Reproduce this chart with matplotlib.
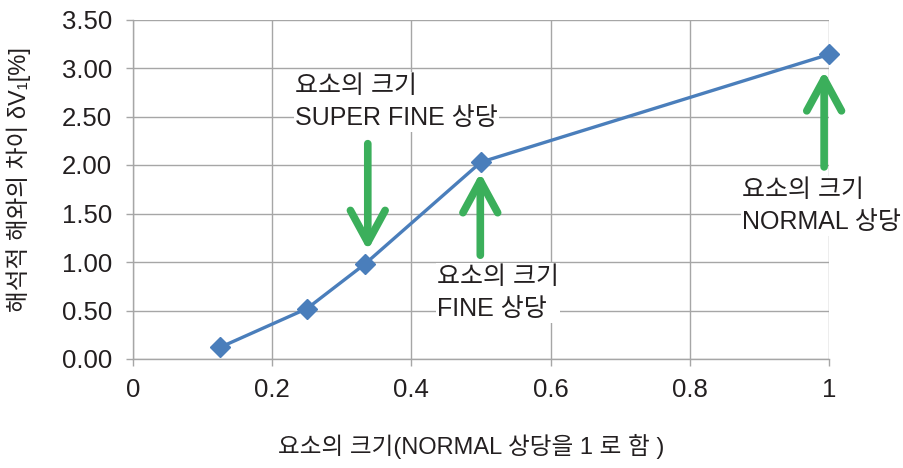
import matplotlib
matplotlib.use("Agg")
import matplotlib.pyplot as plt

plt.rcParams['font.family'] = ['Liberation Sans', 'Noto Sans CJK KR', 'DejaVu Sans']

# element size relative to NORMAL, and deviation from the analytical solution [%]
element_size = [0.125, 0.25, 1/3, 0.5, 1.0]
deviation = [0.12, 0.52, 0.98, 2.03, 3.14]

x_ticks = [0, 0.2, 0.4, 0.6, 0.8, 1.0]
x_tick_labels = ["0", "0.2", "0.4", "0.6", "0.8", "1"]
y_ticks = [0, 0.5, 1.0, 1.5, 2.0, 2.5, 3.0, 3.5]
y_tick_labels = ["0.00", "0.50", "1.00", "1.50", "2.00", "2.50", "3.00", "3.50"]

line_color = "#4A7EBB"
arrow_color = "#3BAF5B"
grid_color = "#A6A6A6"
text_color = "#231F20"

fig = plt.figure(figsize=(9.04, 4.68), dpi=100)
ax = fig.add_axes([133/904, 1 - 359/468, (829 - 133)/904, (359 - 19.5)/468])

ax.plot(element_size, deviation, color=line_color, lw=2.4, marker='D',
        markersize=10.5, markerfacecolor=line_color, markeredgecolor=line_color,
        zorder=5, clip_on=False)

ax.set_xlim(0, 1)
ax.set_ylim(0, 3.5)
ax.set_xticks(x_ticks)
ax.set_xticklabels(x_tick_labels)
ax.set_yticks(y_ticks)
ax.set_yticklabels(y_tick_labels)
ax.grid(True, color=grid_color, lw=1.0)
ax.set_axisbelow(True)
for side in ("top", "right"):
    ax.spines[side].set_visible(False)
for side in ("left", "bottom"):
    ax.spines[side].set_color(grid_color)
    ax.spines[side].set_linewidth(1.0)
ax.tick_params(axis='both', colors=grid_color, labelcolor=text_color,
               labelsize=18.5, length=5, width=1.0)
ax.tick_params(axis='x', pad=9)
ax.tick_params(axis='y', pad=10)

ax.set_xlabel("요소의 크기(NORMAL 상당을 1 로 함 )", fontsize=17,
              color=text_color, va='center')
ax.xaxis.set_label_coords(0.486, -0.259)
ax.set_ylabel("해석적 해와의 차이 δV₁[%]", fontsize=17,
              color=text_color, va='center')
ax.yaxis.set_label_coords(-0.165, 0.53)

# arrows pointing at the SUPER FINE, FINE and NORMAL points
arrow_kw = dict(arrowstyle="->,head_length=2.3,head_width=1.25",
                color=arrow_color, lw=5.5, capstyle='round', joinstyle='round',
                shrinkA=0, shrinkB=0)
sf_x, sf_y = element_size[2], deviation[2]
fn_x, fn_y = element_size[3], deviation[3]
nm_x, nm_y = element_size[4], deviation[4]
ax.annotate("", xy=(sf_x + 0.004, sf_y + 0.14), xytext=(sf_x + 0.004, sf_y + 1.24),
            arrowprops=arrow_kw, zorder=6)
ax.annotate("", xy=(fn_x - 0.001, fn_y - 0.11), xytext=(fn_x - 0.001, fn_y - 0.96),
            arrowprops=arrow_kw, zorder=6)
ax.annotate("", xy=(nm_x - 0.007, nm_y - 0.17), xytext=(nm_x - 0.007, nm_y - 1.16),
            arrowprops=arrow_kw, zorder=6)

label_kw = dict(fontsize=18, color=text_color, ha='left', va='center',
                linespacing=1.45, zorder=7,
                bbox=dict(boxstyle='square,pad=0.05', fc='white', ec='none'))
ax.text(295, 468 - 102, "요소의 크기\nSUPER FINE 상당", transform=None, **label_kw)
ax.text(437, 468 - 293, "요소의 크기\nFINE 상당", transform=None, **label_kw)
ax.text(742, 468 - 206, "요소의 크기\nNORMAL 상당", transform=None, **label_kw)

fig.savefig("out.png", dpi=100)
